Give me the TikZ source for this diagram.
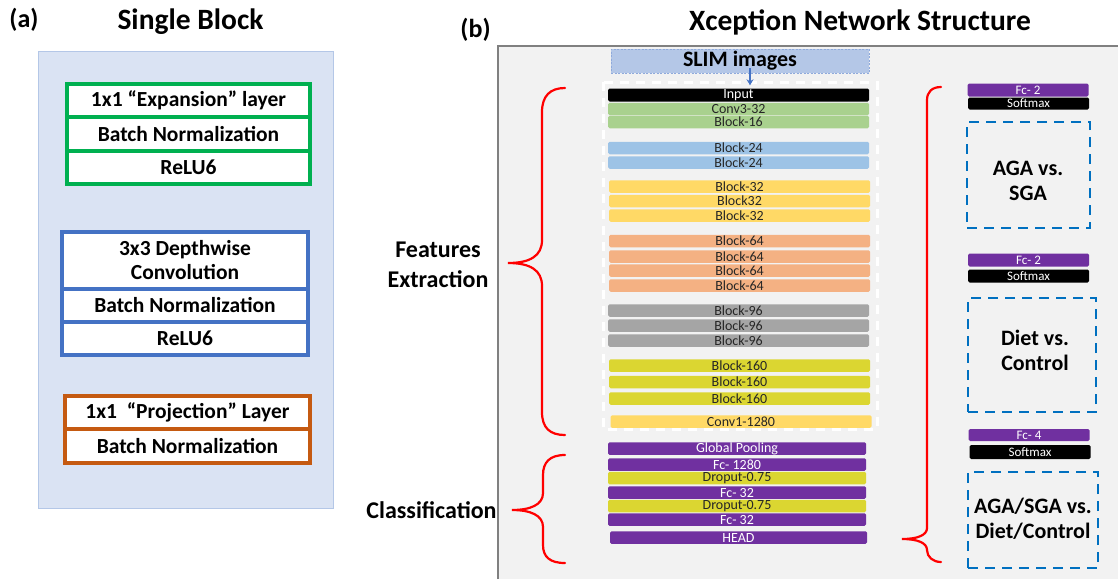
\documentclass[tikz,border=0pt]{standalone}
\usepackage{fontspec}
\setmainfont{Carlito}
\usetikzlibrary{arrows.meta}

\definecolor{grpgreen}{HTML}{00B050}
\definecolor{grpblue}{HTML}{4472C4}
\definecolor{grporange}{HTML}{C55A11}
\definecolor{panelA}{HTML}{DAE3F3}
\definecolor{panelAedge}{HTML}{B4C7E7}
\definecolor{panelB}{HTML}{F2F2F2}
\definecolor{panelBedge}{HTML}{808080}
\definecolor{slimfill}{HTML}{B4C7E7}
\definecolor{slimedge}{HTML}{8FAADC}
\definecolor{cgreen}{HTML}{A9D18E}
\definecolor{cblue}{HTML}{9DC3E6}
\definecolor{cyellow}{HTML}{FFD966}
\definecolor{corange}{HTML}{F4B183}
\definecolor{cgray}{HTML}{A5A5A5}
\definecolor{colive}{HTML}{DBD631}
\definecolor{cpurple}{HTML}{7030A0}
\definecolor{dashblue}{HTML}{0070C0}
\definecolor{bracered}{HTML}{FF0000}

\newcommand\pxfont[2]{\fontsize{#1pt}{#2pt}\selectfont}

\tikzset{
  layer/.style={draw, fill=white, line width=3.2pt, inner sep=0pt,
    align=center, font=\bfseries\pxfont{21.5}{24}},
  netbar/.style={rounded corners=1.5pt, inner sep=0pt, minimum width=261pt,
    minimum height=12.5pt, text=black!85, font=\pxfont{14}{14}},
  darkbar/.style={netbar, text=white},
  headbar/.style={rounded corners=1.5pt, inner sep=0pt, minimum width=121pt,
    minimum height=13pt, text=white, font=\pxfont{13}{13}},
  outbox/.style={draw=dashblue, line width=2.8pt, dash pattern=on 10pt off 7pt,
    inner sep=0pt},
  outtext/.style={align=center, inner sep=0pt, font=\bfseries\pxfont{22}{25}},
  brace/.style={draw=bracered, line width=2.2pt, line cap=round},
  title/.style={font=\bfseries\pxfont{29.5}{29.5}},
  tag/.style={font=\bfseries\pxfont{26}{26}},
  sidelabel/.style={align=center, font=\bfseries\pxfont{24}{30}},
}

\begin{document}
\begin{tikzpicture}[x=1pt, y=-1pt]
\useasboundingbox (0,0) rectangle (1118,579);

% ---------- (a) single block ----------
\node[tag] (taga) at (24,20) {(a)};
\node[title] (titlea) at (190.5,22) {Single Block};
\draw[fill=panelA, draw=panelAedge, line width=1pt] (38,51) rectangle (333,508);

\node[layer, draw=grpgreen, minimum width=243pt, minimum height=33pt] (exp) at (188.5,100.5) {1x1 “Expansion” layer};
\node[layer, draw=grpgreen, minimum width=243pt, minimum height=34pt] (bn1) at (188.5,134) {Batch Normalization};
\node[layer, draw=grpgreen, minimum width=243pt, minimum height=33pt] (relu1) at (188.5,167.5) {ReLU6};

\node[layer, draw=grpblue, minimum width=246pt, minimum height=57pt] (dw) at (185,260.5) {3x3 Depthwise\\Convolution};
\node[layer, draw=grpblue, minimum width=246pt, minimum height=33pt] (bn2) at (185,305.5) {Batch Normalization};
\node[layer, draw=grpblue, minimum width=246pt, minimum height=33pt] (relu2) at (185,338.5) {ReLU6};

\node[layer, draw=grporange, minimum width=245pt, minimum height=33pt] (proj) at (187.5,412.5) {1x1\ \ “Projection” Layer};
\node[layer, draw=grporange, minimum width=245pt, minimum height=34pt] (bn3) at (187.5,446) {Batch Normalization};

% ---------- (b) network structure ----------
\node[tag] (tagb) at (475.5,30) {(b)};
\node[title] (titleb) at (860,22) {Xception Network Structure};

\fill[panelB] (498,46) rectangle (1118,579);
\draw[panelBedge, line width=1.5pt] (498,579) -- (498,46) -- (1118,46);

\node[fill=slimfill, draw=slimedge, line width=0.8pt, dash pattern=on 2pt off 1.5pt,
  minimum width=258pt, minimum height=24pt, inner sep=0pt,
  font=\bfseries\pxfont{22}{22}] (slim) at (740,61) {SLIM images};

% feature-extraction frame
\draw[white, line width=3pt, dash pattern=on 9pt off 7pt] (603,82) rectangle (877,429);

\node[darkbar, fill=black, minimum height=13pt] (input) at (738.5,95) {Input};
\node[netbar, fill=cgreen] (conv3) at (738.5,109) {Conv3-32};
\node[netbar, fill=cgreen] (b16) at (738.5,122) {Block-16};
\node[netbar, fill=cblue] (b24a) at (738.5,148) {Block-24};
\node[netbar, fill=cblue] (b24b) at (738.5,162.5) {Block-24};
\node[netbar, fill=cyellow] (b32a) at (739.5,186.5) {Block-32};
\node[netbar, fill=cyellow] (b32b) at (739.5,201) {Block32};
\node[netbar, fill=cyellow] (b32c) at (739.5,215.5) {Block-32};
\node[netbar, fill=corange] (b64a) at (739.5,241) {Block-64};
\node[netbar, fill=corange] (b64b) at (739.5,256.5) {Block-64};
\node[netbar, fill=corange] (b64c) at (739.5,270.5) {Block-64};
\node[netbar, fill=corange] (b64d) at (739.5,285.5) {Block-64};
\node[netbar, fill=cgray] (b96a) at (738.5,310.5) {Block-96};
\node[netbar, fill=cgray] (b96b) at (738.5,325.5) {Block-96};
\node[netbar, fill=cgray] (b96c) at (738.5,340.5) {Block-96};
\node[netbar, fill=colive] (b160a) at (739.5,365.5) {Block-160};
\node[netbar, fill=colive] (b160b) at (739.5,382) {Block-160};
\node[netbar, fill=colive] (b160c) at (739.5,398.5) {Block-160};
\node[netbar, fill=cyellow] (conv1) at (741,421.5) {Conv1-1280};

\node[darkbar, fill=cpurple, minimum width=258pt] (gpool) at (737,448.5) {Global Pooling};
\node[darkbar, fill=cpurple, minimum width=258pt] (fc1280) at (737,464.5) {Fc- 1280};
\node[netbar, fill=colive, minimum width=258pt] (drop1) at (737,478) {Droput-0.75};
\node[darkbar, fill=cpurple, minimum width=258pt] (fc32a) at (737,492.5) {Fc- 32};
\node[netbar, fill=colive, minimum width=258pt] (drop2) at (737,506) {Droput-0.75};
\node[darkbar, fill=cpurple, minimum width=258pt] (fc32b) at (737,519.5) {Fc- 32};
\node[darkbar, fill=cpurple, minimum width=257pt] (head) at (738.5,537.5) {HEAD};

\draw[grpblue, line width=2pt, -{Stealth[length=6pt,width=7pt]}]
  ([xshift=10pt,yshift=5pt]slim.south) -- ([xshift=11.5pt,yshift=3pt]input.north);

% side labels and braces
\node[sidelabel] (featlbl) at (438,265) {Features\\Extraction};
\node[sidelabel] (clslbl) at (431.5,510) {Classification};

\draw[brace] (565,88) .. controls (550,88) and (542,96) .. (542,112) -- (542,240)
  .. controls (542,256) and (530,263) .. (508,263)
  .. controls (530,263) and (542,270) .. (542,286) -- (542,412)
  .. controls (542,428) and (550,435) .. (565,435);
\draw[brace] (565,455) .. controls (550,455) and (543,462) .. (543,475) -- (543,493)
  .. controls (543,505) and (530,510) .. (512,510)
  .. controls (530,510) and (543,515) .. (543,527) -- (543,545)
  .. controls (543,557) and (550,563) .. (565,563);
\draw[brace] (941,87) .. controls (932,87) and (927,92) .. (927,100) -- (927,528)
  .. controls (927,535) and (918,539) .. (902,539)
  .. controls (918,539) and (927,543) .. (927,550)
  .. controls (927,557) and (933,562) .. (941,562);

% output heads
\node[headbar, fill=cpurple] (fc2a) at (1028,90) {Fc- 2};
\node[headbar, fill=black, minimum height=12pt] (smaxa) at (1028.5,103.5) {Softmax};
\node[outbox, minimum width=123pt, minimum height=106pt] (agasga) at (1028.5,175) {};
\node[outtext] (agasgatxt) at (1028,181) {AGA vs.\\SGA};

\node[headbar, fill=cpurple] (fc2b) at (1028.5,260) {Fc- 2};
\node[headbar, fill=black] (smaxb) at (1028.5,276) {Softmax};
\node[outbox, minimum width=128pt, minimum height=114pt] (dietctl) at (1032,355) {};
\node[outtext] (dietctltxt) at (1035,350.5) {Diet vs.\\Control};

\node[headbar, fill=cpurple, minimum height=12pt] (fc4) at (1029,435) {Fc- 4};
\node[headbar, fill=black, minimum height=14pt] (smaxc) at (1030,452) {Softmax};
\node[outbox, minimum width=130pt, minimum height=96pt] (combo) at (1033,520) {};
\node[outtext] (combotxt) at (1033,518.5) {AGA/SGA vs.\\Diet/Control};
\end{tikzpicture}
\end{document}
